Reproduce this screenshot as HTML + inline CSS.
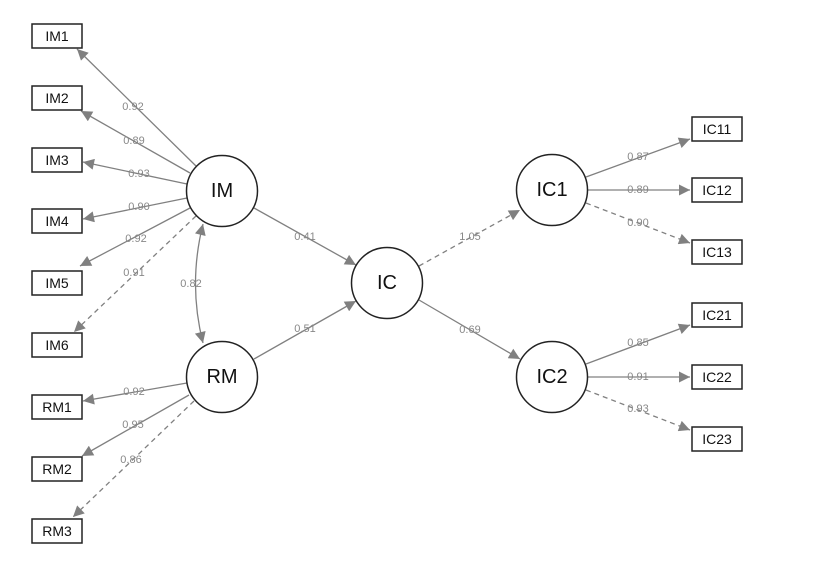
<!DOCTYPE html>
<html><head><meta charset="utf-8"><style>
html,body{margin:0;padding:0;background:#fff;}
svg{display:block;}
.b{fill:#fff;stroke:#222;stroke-width:1.5;}
.c{fill:#fff;stroke:#222;stroke-width:1.5;}
.bt{font-family:"Liberation Sans",sans-serif;font-size:14px;fill:#111;text-anchor:middle;dominant-baseline:central;}
.ct{font-family:"Liberation Sans",sans-serif;font-size:20px;fill:#111;text-anchor:middle;dominant-baseline:central;}
.l{stroke:#808080;stroke-width:1.3;fill:none;marker-end:url(#a);}
.d{stroke-dasharray:5,4;}
.lt{font-family:"Liberation Sans",sans-serif;font-size:11px;fill:#888;text-anchor:middle;dominant-baseline:central;}
</style></head><body>
<svg width="813" height="575" viewBox="0 0 813 575">
<defs>
<marker id="a" viewBox="0 0 10 10" refX="10" refY="5" markerWidth="12" markerHeight="11" markerUnits="userSpaceOnUse" orient="auto"><path d="M0,0L10,5L0,10z" fill="#808080"/></marker>
<marker id="s" viewBox="0 0 10 10" refX="10" refY="5" markerWidth="12" markerHeight="11" markerUnits="userSpaceOnUse" orient="auto-start-reverse"><path d="M0,0L10,5L0,10z" fill="#808080"/></marker>
</defs>
<line class="l" x1="196" y1="166" x2="77" y2="49"/>
<line class="l" x1="190" y1="173" x2="81" y2="111"/>
<line class="l" x1="187" y1="184" x2="83" y2="162"/>
<line class="l" x1="187" y1="198" x2="83" y2="219"/>
<line class="l" x1="190" y1="208" x2="80" y2="266"/>
<line class="l d" x1="196" y1="216" x2="74" y2="332"/>
<path d="M203,224 Q188,284 203,343" stroke="#808080" stroke-width="1.3" fill="none" marker-start="url(#s)" marker-end="url(#s)"/>
<line class="l" x1="187" y1="383" x2="83" y2="401"/>
<line class="l" x1="189" y1="395" x2="82" y2="456"/>
<line class="l d" x1="194" y1="401" x2="73" y2="517"/>
<line class="l" x1="254" y1="208" x2="356" y2="265"/>
<line class="l" x1="254" y1="359" x2="356" y2="301"/>
<line class="l d" x1="419" y1="266" x2="520" y2="210"/>
<line class="l" x1="419" y1="300" x2="520" y2="359"/>
<line class="l" x1="586" y1="177" x2="690" y2="139"/>
<line class="l" x1="588" y1="190" x2="690" y2="190"/>
<line class="l d" x1="586" y1="203" x2="690" y2="243"/>
<line class="l" x1="586" y1="364" x2="690" y2="325"/>
<line class="l" x1="588" y1="377" x2="690" y2="377"/>
<line class="l d" x1="586" y1="390" x2="690" y2="430"/>
<text class="lt" x="133" y="107">0.92</text>
<text class="lt" x="134" y="141">0.89</text>
<text class="lt" x="139" y="174">0.93</text>
<text class="lt" x="139" y="207">0.90</text>
<text class="lt" x="136" y="239">0.92</text>
<text class="lt" x="134" y="273">0.91</text>
<text class="lt" x="191" y="284">0.82</text>
<text class="lt" x="134" y="392">0.92</text>
<text class="lt" x="133" y="425">0.95</text>
<text class="lt" x="131" y="460">0.86</text>
<text class="lt" x="305" y="237">0.41</text>
<text class="lt" x="305" y="329">0.51</text>
<text class="lt" x="470" y="237">1.05</text>
<text class="lt" x="470" y="330">0.69</text>
<text class="lt" x="638" y="157">0.87</text>
<text class="lt" x="638" y="190">0.89</text>
<text class="lt" x="638" y="223">0.90</text>
<text class="lt" x="638" y="343">0.85</text>
<text class="lt" x="638" y="377">0.91</text>
<text class="lt" x="638" y="409">0.93</text>
<g>
<rect class="b" x="32" y="24" width="50" height="24"/><text class="bt" x="57" y="36">IM1</text>
<rect class="b" x="32" y="86" width="50" height="24"/><text class="bt" x="57" y="98">IM2</text>
<rect class="b" x="32" y="148" width="50" height="24"/><text class="bt" x="57" y="160">IM3</text>
<rect class="b" x="32" y="209" width="50" height="24"/><text class="bt" x="57" y="221">IM4</text>
<rect class="b" x="32" y="271" width="50" height="24"/><text class="bt" x="57" y="283">IM5</text>
<rect class="b" x="32" y="333" width="50" height="24"/><text class="bt" x="57" y="345">IM6</text>
<rect class="b" x="32" y="395" width="50" height="24"/><text class="bt" x="57" y="407">RM1</text>
<rect class="b" x="32" y="457" width="50" height="24"/><text class="bt" x="57" y="469">RM2</text>
<rect class="b" x="32" y="519" width="50" height="24"/><text class="bt" x="57" y="531">RM3</text>
<rect class="b" x="692" y="117" width="50" height="24"/><text class="bt" x="717" y="129">IC11</text>
<rect class="b" x="692" y="178" width="50" height="24"/><text class="bt" x="717" y="190">IC12</text>
<rect class="b" x="692" y="240" width="50" height="24"/><text class="bt" x="717" y="252">IC13</text>
<rect class="b" x="692" y="303" width="50" height="24"/><text class="bt" x="717" y="315">IC21</text>
<rect class="b" x="692" y="365" width="50" height="24"/><text class="bt" x="717" y="377">IC22</text>
<rect class="b" x="692" y="427" width="50" height="24"/><text class="bt" x="717" y="439">IC23</text>
</g>
<circle class="c" cx="222" cy="191" r="35.5"/><text class="ct" x="222" y="191">IM</text>
<circle class="c" cx="222" cy="377" r="35.5"/><text class="ct" x="222" y="377">RM</text>
<circle class="c" cx="387" cy="283" r="35.5"/><text class="ct" x="387" y="283">IC</text>
<circle class="c" cx="552" cy="190" r="35.5"/><text class="ct" x="552" y="190">IC1</text>
<circle class="c" cx="552" cy="377" r="35.5"/><text class="ct" x="552" y="377">IC2</text>
</svg>
</body></html>
